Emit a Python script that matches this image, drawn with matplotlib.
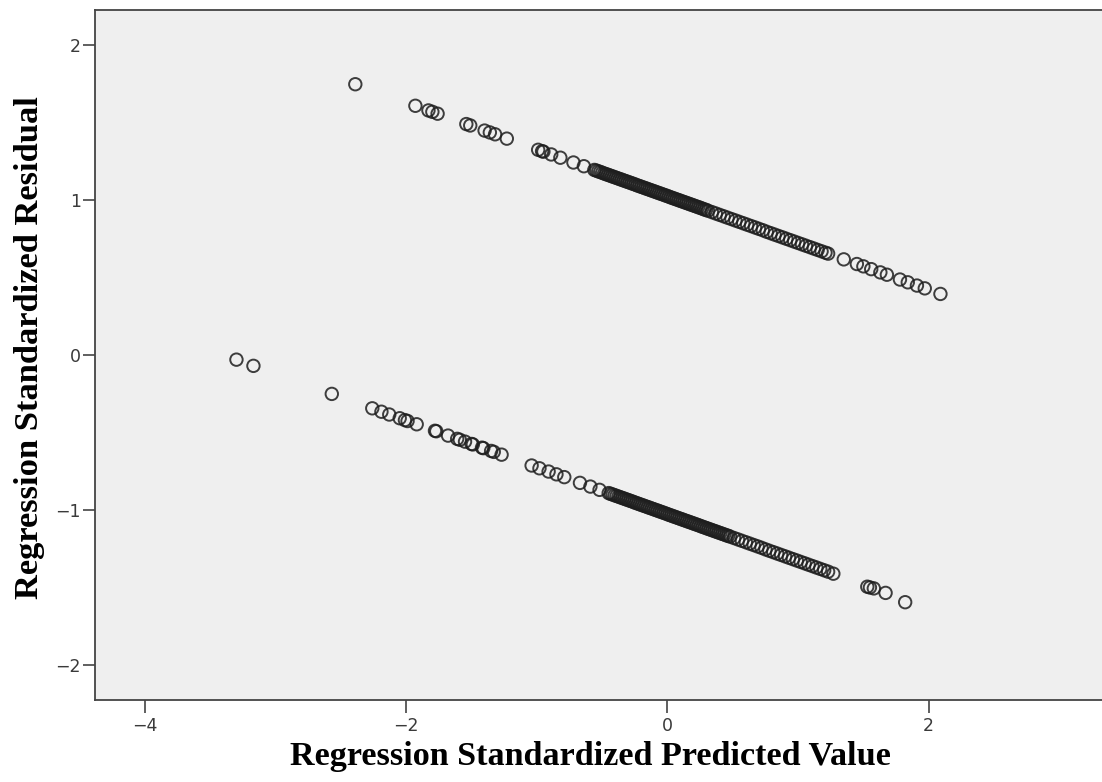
import matplotlib
matplotlib.use("Agg")
import matplotlib.pyplot as plt

# Upper band (predicted value, residual)
upper_x = [-2.39, -1.93, -1.83, -1.80, -1.76, -1.54, -1.51, -1.40, -1.36, -1.32, -1.23,
           -0.99, -0.96, -0.95, -0.89, -0.82, -0.72, -0.64,
           -0.56, -0.53, -0.50, -0.47, -0.44, -0.41, -0.38, -0.35, -0.32, -0.29, -0.26,
           -0.23, -0.20, -0.17, -0.14, -0.11, -0.08, -0.05, -0.02, 0.01, 0.04, 0.07,
           0.10, 0.13, 0.16, 0.19, 0.22, 0.25, 0.28, 0.31, 0.34, 0.37, 0.40, 0.43,
           0.46, 0.49, 0.52, 0.55, 0.58, 0.61, 0.64, 0.67, 0.70, 0.73, 0.76, 0.79,
           0.82, 0.85, 0.88, 0.91, 0.94, 0.97, 1.00, 1.03, 1.06, 1.09, 1.12, 1.15,
           1.18, 1.21, 1.23, 1.35, 1.45, 1.50, 1.56, 1.63, 1.68, 1.78, 1.84, 1.91,
           1.97, 2.09]
upper_y = [1.747, 1.608, 1.578, 1.569, 1.557, 1.490, 1.481, 1.448, 1.436, 1.424, 1.396,
           1.324, 1.315, 1.312, 1.294, 1.273, 1.242, 1.218,
           1.194, 1.185, 1.176, 1.167, 1.158, 1.149, 1.140, 1.131, 1.122, 1.113, 1.104,
           1.094, 1.085, 1.076, 1.067, 1.058, 1.049, 1.040, 1.031, 1.022, 1.013, 1.004,
           0.995, 0.986, 0.977, 0.968, 0.959, 0.950, 0.940, 0.931, 0.922, 0.913, 0.904, 0.895,
           0.886, 0.877, 0.868, 0.859, 0.850, 0.841, 0.832, 0.823, 0.814, 0.805, 0.795, 0.786,
           0.777, 0.768, 0.759, 0.750, 0.741, 0.732, 0.723, 0.714, 0.705, 0.696, 0.687, 0.678,
           0.669, 0.660, 0.654, 0.617, 0.587, 0.572, 0.554, 0.533, 0.518, 0.487, 0.469, 0.448,
           0.430, 0.394]

# Extra cases in the densest part of the upper band
upper_dense_x = [-0.545, -0.515, -0.485, -0.455, -0.425, -0.395, -0.365, -0.335, -0.305,
                 -0.275, -0.245, -0.215, -0.185, -0.155, -0.125, -0.095, -0.065, -0.035,
                 -0.005, 0.025, 0.055, 0.085, 0.115, 0.145, 0.175, 0.205, 0.235, 0.265, 0.295]
upper_dense_y = [1.190, 1.181, 1.171, 1.162, 1.153, 1.144, 1.135, 1.126, 1.117,
                 1.108, 1.099, 1.090, 1.081, 1.072, 1.063, 1.054, 1.045, 1.036,
                 1.027, 1.017, 1.008, 0.999, 0.990, 0.981, 0.972, 0.963, 0.954, 0.945, 0.936]

# Lower band (predicted value, residual)
lower_x = [-3.30, -3.17, -2.57, -2.26, -2.19, -2.13, -2.05, -2.01, -1.99, -1.92, -1.78,
           -1.77, -1.68, -1.61, -1.59, -1.55, -1.50, -1.49, -1.42, -1.41, -1.35, -1.33,
           -1.27, -1.04, -0.98, -0.91, -0.85, -0.79, -0.67, -0.59, -0.52,
           -0.45, -0.42, -0.39, -0.36, -0.33, -0.30, -0.27, -0.24, -0.21, -0.18, -0.15,
           -0.12, -0.09, -0.06, -0.03, 0.00, 0.03, 0.06, 0.09, 0.12, 0.15, 0.18, 0.21,
           0.24, 0.27, 0.30, 0.33, 0.36, 0.39, 0.42, 0.45, 0.48, 0.51, 0.54, 0.57,
           0.60, 0.63, 0.66, 0.69, 0.72, 0.75, 0.78, 0.81, 0.84, 0.87, 0.90, 0.93,
           0.96, 0.99, 1.02, 1.05, 1.08, 1.11, 1.14, 1.17, 1.20, 1.23, 1.27,
           1.53, 1.55, 1.58, 1.67, 1.82]
lower_y = [-0.030, -0.070, -0.251, -0.344, -0.366, -0.384, -0.408, -0.420, -0.426, -0.447, -0.489,
           -0.492, -0.520, -0.541, -0.547, -0.559, -0.574, -0.577, -0.598, -0.601, -0.619, -0.625,
           -0.643, -0.713, -0.731, -0.752, -0.770, -0.788, -0.825, -0.849, -0.870,
           -0.891, -0.900, -0.909, -0.918, -0.927, -0.936, -0.945, -0.955, -0.964, -0.973, -0.982,
           -0.991, -1.000, -1.009, -1.018, -1.027, -1.036, -1.045, -1.054, -1.063, -1.072, -1.081, -1.090,
           -1.099, -1.109, -1.118, -1.127, -1.136, -1.145, -1.154, -1.163, -1.172, -1.181, -1.190, -1.199,
           -1.208, -1.217, -1.226, -1.235, -1.244, -1.254, -1.263, -1.272, -1.281, -1.290, -1.299, -1.308,
           -1.317, -1.326, -1.335, -1.344, -1.353, -1.362, -1.371, -1.380, -1.389, -1.398, -1.411,
           -1.495, -1.500, -1.506, -1.535, -1.595]

# Extra cases in the densest part of the lower band
lower_dense_x = [-0.435, -0.405, -0.375, -0.345, -0.315, -0.285, -0.255, -0.225, -0.195,
                 -0.165, -0.135, -0.105, -0.075, -0.045, -0.015, 0.015, 0.045, 0.075,
                 0.105, 0.135, 0.165, 0.195, 0.225, 0.255, 0.285, 0.315, 0.345, 0.375,
                 0.405, 0.435, 0.465]
lower_dense_y = [-0.896, -0.905, -0.914, -0.923, -0.932, -0.941, -0.950, -0.959, -0.968,
                 -0.977, -0.986, -0.995, -1.004, -1.013, -1.022, -1.032, -1.041, -1.050,
                 -1.059, -1.068, -1.077, -1.086, -1.095, -1.104, -1.113, -1.122, -1.131, -1.140,
                 -1.149, -1.158, -1.167]

x_ticks = [-4, -2, 0, 2]
y_ticks = [-2, -1, 0, 1, 2]
x_label = "Regression Standardized Predicted Value"
y_label = "Regression Standardized Residual"

fig = plt.figure(figsize=(11.02, 7.82), dpi=100)
ax = fig.add_axes([95 / 1102, 82 / 782, 1007 / 1102, 690 / 782])
ax.set_facecolor("#efefef")

for xs, ys in ((upper_x, upper_y), (upper_dense_x, upper_dense_y),
               (lower_x, lower_y), (lower_dense_x, lower_dense_y)):
    ax.scatter(xs, ys, s=80, facecolors="none", edgecolors="#1e1e1e",
               linewidths=1.4, alpha=0.85, zorder=3)

ax.set_xlim(-4.383, 3.327)
ax.set_ylim(-2.226, 2.226)
ax.set_xticks(x_ticks)
ax.set_yticks(y_ticks)
ax.set_xticklabels([str(t).replace("-", "\u2212") for t in x_ticks])
ax.set_yticklabels([str(t).replace("-", "\u2212") for t in y_ticks])

for side in ("left", "bottom", "top"):
    ax.spines[side].set_color("#444444")
    ax.spines[side].set_linewidth(1.3)
ax.spines["right"].set_visible(False)

ax.tick_params(axis="both", direction="out", length=9, width=1.2,
               color="#444444", labelcolor="#3a3a3a", labelsize=12.5,
               labelfontfamily="DejaVu Sans")
ax.tick_params(axis="y", pad=1)
ax.tick_params(axis="x", pad=3)

fig.text(590 / 1102, 1 - 757 / 782, x_label, ha="center", va="center",
         fontsize=24.6, fontweight="bold", family="Liberation Serif")
fig.text(30 / 1102, 1 - 348 / 782, y_label, ha="center", va="center",
         rotation=90, fontsize=24.8, fontweight="bold", family="Liberation Serif")

fig.savefig("out.png", dpi=100)
